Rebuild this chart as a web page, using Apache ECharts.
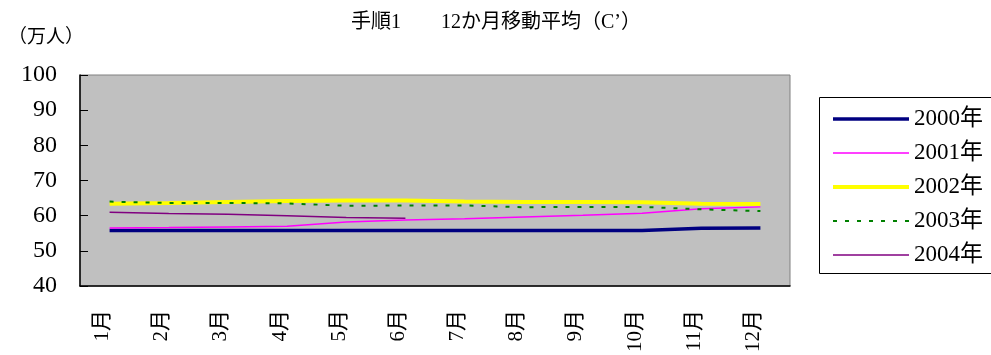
<!DOCTYPE html>
<html>
<head>
<meta charset="utf-8">
<script src="https://cdn.jsdelivr.net/npm/echarts@6/dist/echarts.min.js"></script>
<style>
  html, body { margin: 0; padding: 0; background: #ffffff; }
  #chart { width: 991px; height: 355px; }
</style>
</head>
<body>
<div id="chart"></div>
<script>
// 12-month moving averages by year (unit: 10,000 people)
const months = ['1月', '2月', '3月', '4月', '5月', '6月', '7月', '8月', '9月', '10月', '11月', '12月'];
const y2000 = [55.8, 55.8, 55.8, 55.8, 55.8, 55.8, 55.8, 55.8, 55.8, 55.8, 56.4, 56.5];
const y2001 = [56.5, 56.6, 56.8, 57.0, 58.2, 58.8, 59.1, 59.6, 60.1, 60.7, 62.0, 62.5];
const y2002 = [63.4, 63.6, 63.9, 64.2, 64.3, 64.3, 64.0, 63.9, 63.9, 63.8, 63.4, 63.3];
const y2003 = [64.0, 63.6, 63.6, 63.5, 62.8, 62.9, 62.9, 62.4, 62.5, 62.5, 61.8, 61.3];
const y2004 = [61.0, 60.6, 60.4, 60.0, 59.5, 59.3];
const yearNames = ['2000年', '2001年', '2002年', '2003年', '2004年'];
const yTicks = { min: 40, max: 100, interval: 10 };

const serif = "'Liberation Serif', 'Noto Sans CJK JP', serif";

// per-year line styles
const styles = [
  { color: '#000080', width: 3.5, type: 'solid' },
  { color: '#FF00FF', width: 1.5, type: 'solid' },
  { color: '#FFFF00', width: 4, type: 'solid' },
  { color: '#008000', width: 2, type: [4, 8] },
  { color: '#800080', width: 1.5, type: 'solid' }
];
const yearData = [y2000, y2001, y2002, y2003, y2004];

const chart = echarts.init(document.getElementById('chart'));

chart.setOption({
  animation: false,
  title: {
    text: '手順1　　12か月移動平均（C’）',
    left: 491,
    textAlign: 'center',
    top: 8,
    textStyle: { fontFamily: serif, fontSize: 20, fontWeight: 'normal', color: '#000' }
  },
  graphic: [
    {
      type: 'text',
      left: 8,
      top: 29,
      style: { text: '（万人）', font: '19px ' + serif, fill: '#000' }
    },
    {
      type: 'rect',
      left: 819,
      top: 97,
      shape: { width: 200, height: 176 },
      style: { fill: '#ffffff', stroke: '#000', lineWidth: 1 },
      z: 0
    }
  ],
  legend: {
    orient: 'vertical',
    left: 831,
    top: 107,
    padding: 0,
    itemWidth: 76,
    itemHeight: 14,
    itemGap: 10,
    itemStyle: { opacity: 0 },
    textStyle: { fontFamily: serif, fontSize: 23, color: '#000', lineHeight: 24 },
    data: yearNames.map((n, i) => ({
      name: n,
      itemStyle: { opacity: 0 },
      lineStyle: { color: styles[i].color, width: styles[i].width, type: styles[i].type }
    })),
    z: 5
  },
  grid: {
    left: 80,
    top: 75,
    width: 710,
    height: 212,
    show: true,
    backgroundColor: '#C0C0C0',
    borderColor: '#808080',
    borderWidth: 1
  },
  xAxis: {
    type: 'category',
    data: months,
    boundaryGap: true,
    axisLine: { lineStyle: { color: '#000', width: 1.5 } },
    axisTick: { inside: true, length: 8, lineStyle: { color: '#000' } },
    axisLabel: {
      rotate: 90,
      margin: 24,
      fontFamily: serif,
      fontSize: 21,
      color: '#000',
      lineHeight: 14,
      verticalAlign: 'bottom'
    },
    splitLine: { show: false }
  },
  yAxis: {
    type: 'value',
    min: yTicks.min,
    max: yTicks.max,
    interval: yTicks.interval,
    axisLine: { show: true, lineStyle: { color: '#000', width: 1.5 } },
    axisTick: { show: true, inside: true, length: 8, lineStyle: { color: '#000' } },
    axisLabel: { margin: 23, fontFamily: serif, fontSize: 24, color: '#000' },
    splitLine: { show: false }
  },
  series: yearNames.map((n, i) => ({
    name: n,
    type: 'line',
    data: yearData[i],
    symbol: 'none',
    lineStyle: { color: styles[i].color, width: styles[i].width, type: styles[i].type, cap: 'butt' },
    itemStyle: { color: styles[i].color }
  }))
});
</script>
</body>
</html>
